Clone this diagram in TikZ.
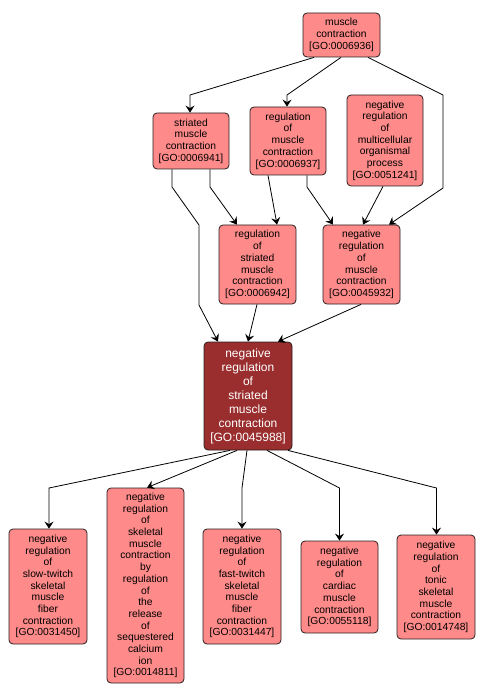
\documentclass[tikz,border=0pt]{standalone}
\usepackage{fontspec}
\setmainfont{Liberation Sans}
\usetikzlibrary{arrows.meta}
\definecolor{gofill}{RGB}{255,138,138}
\definecolor{gomain}{RGB}{154,46,46}
\definecolor{goborder}{RGB}{40,30,30}
\tikzset{
  term/.style={draw=goborder, line width=0.8pt, fill=gofill, rounded corners=4pt,
    inner sep=0pt, align=center, font=\fontsize{10.3}{11.7}\selectfont},
  mainterm/.style={term, fill=gomain, text=white, font=\fontsize{12}{14}\selectfont},
  arr/.style={draw=black, line width=0.8pt, -{Stealth[length=7pt,width=9pt,inset=2.5pt]}},
}
\begin{document}
\begin{tikzpicture}[x=1pt,y=-1pt]
\useasboundingbox (0,0) rectangle (486,700);
\node[term, minimum width=77pt, minimum height=44pt] (mc) at (341.5,35) {muscle\\contraction\\{[GO:0006936]}};
\node[term, minimum width=76pt, minimum height=56pt] (smc) at (191,141) {striated\\muscle\\contraction\\{[GO:0006941]}};
\node[term, minimum width=76pt, minimum height=68pt] (rmc) at (288,141) {regulation\\of\\muscle\\contraction\\{[GO:0006937]}};
\node[term, minimum width=76pt, minimum height=91pt] (nrmop) at (385,140.5) {negative\\regulation\\of\\multicellular\\organismal\\process\\{[GO:0051241]}};
\node[term, minimum width=77pt, minimum height=79pt] (rsmc) at (257.5,264.5) {regulation\\of\\striated\\muscle\\contraction\\{[GO:0006942]}};
\node[term, minimum width=77pt, minimum height=79pt] (nrmc) at (361.5,264.5) {negative\\regulation\\of\\muscle\\contraction\\{[GO:0045932]}};
\node[mainterm, minimum width=88pt, minimum height=108pt] (main) at (248,396) {negative\\regulation\\of\\striated\\muscle\\contraction\\{[GO:0045988]}};
\node[term, minimum width=78pt, minimum height=115pt] (slow) at (48,586.5) {negative\\regulation\\of\\slow-twitch\\skeletal\\muscle\\fiber\\contraction\\{[GO:0031450]}};
\node[term, minimum width=77pt, minimum height=195pt] (skel) at (145.5,585.5) {negative\\regulation\\of\\skeletal\\muscle\\contraction\\by\\regulation\\of\\the\\release\\of\\sequestered\\calcium\\ion\\{[GO:0014811]}};
\node[term, minimum width=78pt, minimum height=115pt] (fast) at (242,586.5) {negative\\regulation\\of\\fast-twitch\\skeletal\\muscle\\fiber\\contraction\\{[GO:0031447]}};
\node[term, minimum width=77pt, minimum height=92pt] (card) at (339.5,587) {negative\\regulation\\of\\cardiac\\muscle\\contraction\\{[GO:0055118]}};
\node[term, minimum width=78pt, minimum height=104pt] (tonic) at (436,587) {negative\\regulation\\of\\tonic\\skeletal\\muscle\\contraction\\{[GO:0014748]}};
% edges
\draw[arr] ([xshift=-27.5pt]mc.south) -- (190,95) -- ([xshift=-1pt]smc.north);
\draw[arr] ([xshift=-0.5pt]mc.south) -- (287,95) -- ([xshift=-1pt]rmc.north);
\draw[arr] ([xshift=26.5pt]mc.south) -- (443,95) -- (443,188) -- ([xshift=27.5pt]nrmc.north);
\draw[arr] ([xshift=-19pt]smc.south) -- (172,187) -- (199,225) -- (199,305) -- ([xshift=-30pt]main.north);
\draw[arr] ([xshift=19pt]smc.south) -- (210,187) -- ([xshift=-20.5pt]rsmc.north);
\draw[arr] ([xshift=-20pt]rmc.south) -- ([xshift=19.5pt]rsmc.north);
\draw[arr] ([xshift=19pt]rmc.south) -- (307,187) -- ([xshift=-28.5pt]nrmc.north);
\draw[arr] ([xshift=-2pt]nrmop.south) -- ([xshift=1.5pt]nrmc.north);
\draw[arr] ([xshift=-0.5pt]rsmc.south) -- (main.north);
\draw[arr] ([xshift=-0.5pt]nrmc.south) -- ([xshift=30pt]main.north);
\draw[arr] ([xshift=-18pt]main.south) -- (49,488) -- ([xshift=1pt]slow.north);
\draw[arr] ([xshift=-11pt]main.south) -- ([xshift=1.5pt]skel.north);
\draw[arr] ([xshift=-1pt]main.south) -- (242,488) -- (fast.north);
\draw[arr] ([xshift=19pt]main.south) -- (339.5,488) -- (card.north);
\draw[arr] ([xshift=40pt]main.south) -- (436.5,488) -- ([xshift=0.5pt]tonic.north);
\end{tikzpicture}
\end{document}
